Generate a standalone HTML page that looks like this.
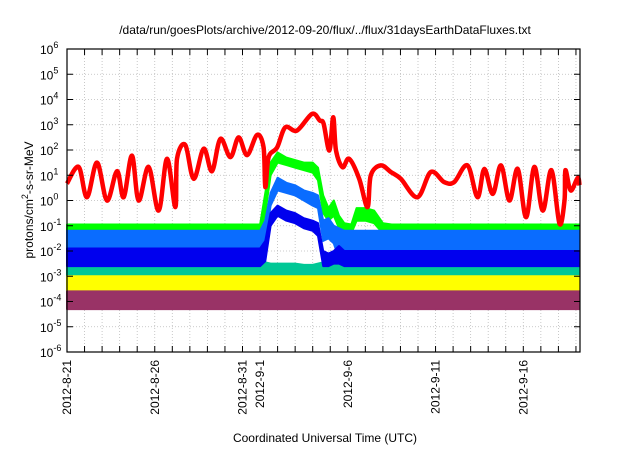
<!DOCTYPE html>
<html><head><meta charset="utf-8"><style>
body{margin:0;background:#fff;}
svg text{font-family:"Liberation Sans",sans-serif;fill:#000;}
</style></head><body>
<svg id="chart" width="640" height="448" viewBox="0 0 640 448" xmlns="http://www.w3.org/2000/svg">
<text x="325" y="34" font-size="12" text-anchor="middle">/data/run/goesPlots/archive/2012-09-20/flux/../flux/31daysEarthDataFluxes.txt</text>
<text transform="translate(33,200) rotate(-90)" font-size="12" text-anchor="middle">protons/cm<tspan font-size="9" dy="-5">2</tspan><tspan dy="5">-s-sr-MeV</tspan></text>
<text x="325" y="442" font-size="12" text-anchor="middle">Coordinated Universal Time (UTC)</text>
<g id="grid"></g><g id="series"></g><g id="axes"></g>
</svg>
<script>
const yTickExps=[6,5,4,3,2,1,0,-1,-2,-3,-4,-5,-6];
const dateLabels=["2012-8-21","2012-8-26","2012-8-31","2012-9-1","2012-9-6","2012-9-11","2012-9-16"];
const dateLabelDays=[0,5,10,11,16,21,26];
const redDays=[0,0.66,1.14,1.71,2.28,2.85,3.23,3.7,4.08,4.65,5.22,5.7,6.17,6.27,6.74,7.22,7.79,8.26,8.74,9.31,9.78,10.26,10.83,11.2,11.3,11.49,11.97,12.44,13.1,13.96,14.4,14.62,14.95,15.17,15.33,15.7,16.08,16.65,17.12,17.31,17.88,18.45,19.02,19.97,20.73,21.49,22.06,22.82,23.39,23.78,24.26,24.73,25.21,25.68,26.16,26.63,27.11,27.6,28.06,28.35,28.4,28.7,29.1,29.2];
const redLog=[0.67,1.33,0.13,1.5,0,1.16,0.13,1.78,0,1.33,-0.4,1.65,-0.26,1.65,2.2,0.86,2.05,1.16,2.44,1.72,2.5,1.8,2.6,2.1,0.53,1.72,2.1,2.9,2.77,3.43,3.17,3.04,1.98,3.3,1.98,1.32,1.65,0.86,-0.26,1.0,1.39,1.13,0.86,0.13,1.13,0.73,0.73,1.39,0.13,1.25,0.26,1.39,0,1.25,-0.66,1.33,-0.4,1.2,-0.92,0,1.2,0.4,0.9,0.6];
const bandDays=[0,11.0,11.3,11.6,12.0,12.5,13,13.5,14,14.3,14.6,14.9,15.2,15.5,15.8,16.2,16.5,17,17.5,18,18.5,29.2];
const greenHi=[-0.95,-0.95,0.3,1.5,1.9,1.7,1.6,1.5,1.5,1.3,0.2,-0.3,0.0,-0.6,-0.9,-0.95,-0.3,-0.3,-0.4,-0.9,-0.95,-0.95];
const greenLo=[-1.3,-1.3,-0.5,1.0,1.5,1.4,1.3,1.2,1.1,0.8,-0.5,-0.8,-0.6,-1.1,-1.3,-1.3,-0.8,-0.8,-0.9,-1.3,-1.3,-1.3];
const lblueHi=[-1.2,-1.2,-0.8,0.3,0.9,0.7,0.6,0.4,0.3,0.2,-0.8,-0.7,-1.0,-1.1,-1.2,-1.2,-1.2,-1.2,-1.2,-1.2,-1.2,-1.2];
const lblueLo=[-2.5,-2.5,-1.6,-0.2,0.4,0.3,0.2,0.0,-0.2,-0.3,-1.6,-1.5,-1.7,-2.3,-2.5,-2.5,-2.5,-2.5,-2.5,-2.5,-2.5,-2.5];
const dblueHi=[-1.9,-1.9,-1.6,-0.5,-0.2,-0.4,-0.5,-0.7,-0.8,-0.9,-2.0,-2.1,-2.0,-1.8,-2.0,-2.0,-2.0,-2.0,-2.0,-2.0,-2.0,-2.0];
const dblueLo=[-2.6,-2.6,-2.4,-1.0,-0.6,-0.8,-0.9,-1.1,-1.2,-1.4,-2.6,-2.6,-2.5,-2.5,-2.6,-2.6,-2.6,-2.6,-2.6,-2.6,-2.6,-2.6];
const tealHi=[-2.35,-2.35,-2.45,-2.5,-2.5,-2.5,-2.5,-2.55,-2.55,-2.5,-2.45,-2.4,-2.4,-2.4,-2.35,-2.35,-2.35,-2.35,-2.35,-2.35,-2.35,-2.35];
const tealLo=[-3.2,-3.2,-3.2,-3.2,-3.2,-3.2,-3.2,-3.2,-3.2,-3.2,-3.2,-3.2,-3.2,-3.2,-3.2,-3.2,-3.2,-3.2,-3.2,-3.2,-3.2,-3.2];
const yellowHi=[-3.0,-3.0,-3.0,-3.0,-3.0,-3.0,-3.0,-3.0,-3.0,-3.0,-3.0,-3.0,-3.0,-3.0,-3.0,-3.0,-3.0,-3.0,-3.0,-3.0,-3.0,-3.0];
const yellowLo=[-3.65,-3.65,-3.65,-3.65,-3.65,-3.65,-3.65,-3.65,-3.65,-3.65,-3.65,-3.65,-3.65,-3.65,-3.65,-3.65,-3.65,-3.65,-3.65,-3.65,-3.65,-3.65];
const maroonHi=[-3.6,-3.6,-3.6,-3.6,-3.6,-3.6,-3.6,-3.6,-3.6,-3.6,-3.6,-3.6,-3.6,-3.6,-3.6,-3.6,-3.6,-3.6,-3.6,-3.6,-3.6,-3.6];
const maroonLo=[-4.3,-4.3,-4.3,-4.3,-4.3,-4.3,-4.3,-4.3,-4.3,-4.3,-4.3,-4.3,-4.3,-4.3,-4.3,-4.3,-4.3,-4.3,-4.3,-4.3,-4.3,-4.3];

const L=67,R=580,T=49,B=352,dayW=17.55;
const xS=d=>L+d*dayW;
const yS=e=>T+(6-e)*(B-T)/12;
const NS="http://www.w3.org/2000/svg";
const mk=(p,tag,attrs)=>{const e=document.createElementNS(NS,tag);for(const k in attrs)e.setAttribute(k,attrs[k]);p.appendChild(e);return e;};
const grid=document.getElementById('grid'),ser=document.getElementById('series'),ax=document.getElementById('axes');
const nDays=Math.floor((R-L)/dayW);
for(let d=1;d<=nDays;d++){const g=mk(grid,'line',{x1:xS(d),x2:xS(d),y1:T,y2:B,stroke:'#bbb','stroke-width':0.8,'stroke-dasharray':'1,2'});

}
yTickExps.forEach(e=>{const y=yS(e);
if(e<6&&e>-6){const g=mk(grid,'line',{x1:L,x2:R,y1:y,y2:y,stroke:'#bbb','stroke-width':0.8,'stroke-dasharray':'1,2'});

}
const t1=mk(ax,'line',{x1:L,x2:L+6,y1:y,y2:y,stroke:'#000'});


const t2=mk(ax,'line',{x1:R-6,x2:R,y1:y,y2:y,stroke:'#000'});


const tx=mk(ax,'text',{x:40,y:y+5,'font-size':12,'text-anchor':'start'});


tx.textContent='10';
const sp=mk(tx,'tspan',{dy:-6,'font-size':9});sp.textContent=String(e);
});
for(let d=0;d<=nDays;d++){
const b=mk(ax,'line',{x1:xS(d),x2:xS(d),y1:B-6,y2:B,stroke:'#000'});


const t=mk(ax,'line',{x1:xS(d),x2:xS(d),y1:T,y2:T+6,stroke:'#000'});

}
dateLabels.forEach((s,i)=>{const x=xS(dateLabelDays[i]);
const tx=mk(ax,'text',{transform:`translate(${x+4},${B+8}) rotate(-90)`,'font-size':12,'text-anchor':'end'});


tx.textContent=s;});
function band(hi,lo,color,name){
let p='';hi.forEach((v,i)=>{p+=(i?'L':'M')+xS(bandDays[i]).toFixed(1)+','+yS(v).toFixed(1);});
for(let i=lo.length-1;i>=0;i--)p+='L'+xS(bandDays[i]).toFixed(1)+','+yS(lo[i]).toFixed(1);
const e=mk(ser,'path',{d:p+'Z',fill:color,stroke:color,'stroke-width':2,'stroke-linejoin':'round'});

}
band(greenHi,greenLo,'#00ff00','series-green');
band(lblueHi,lblueLo,'#0a6cff','series-light-blue');
band(tealHi,tealLo,'#00c896','series-teal');
band(dblueHi,dblueLo,'#0000ee','series-dark-blue');
band(yellowHi,yellowLo,'#ffff00','series-yellow');
band(maroonHi,maroonLo,'#993366','series-maroon');
const pts=redDays.map((d,i)=>[xS(d),yS(redLog[i])]);
let rp='M'+pts[0][0].toFixed(1)+','+pts[0][1].toFixed(1);
for(let i=0;i<pts.length-1;i++){const p0=pts[Math.max(0,i-1)],p1=pts[i],p2=pts[i+1],p3=pts[Math.min(pts.length-1,i+2)];
const c1=[p1[0]+(p2[0]-p0[0])/6,p1[1]+(p2[1]-p0[1])/6],c2=[p2[0]-(p3[0]-p1[0])/6,p2[1]-(p3[1]-p1[1])/6];
rp+=`C${c1[0].toFixed(1)},${c1[1].toFixed(1)} ${c2[0].toFixed(1)},${c2[1].toFixed(1)} ${p2[0].toFixed(1)},${p2[1].toFixed(1)}`;}
const red=mk(ser,'path',{d:rp,fill:'none',stroke:'#ff0000','stroke-width':4.5,'stroke-linejoin':'round'});


const fr=mk(ax,'rect',{x:L,y:T,width:R-L,height:B-T,fill:'none',stroke:'#000','stroke-width':1.2});


</script>
</body></html>
